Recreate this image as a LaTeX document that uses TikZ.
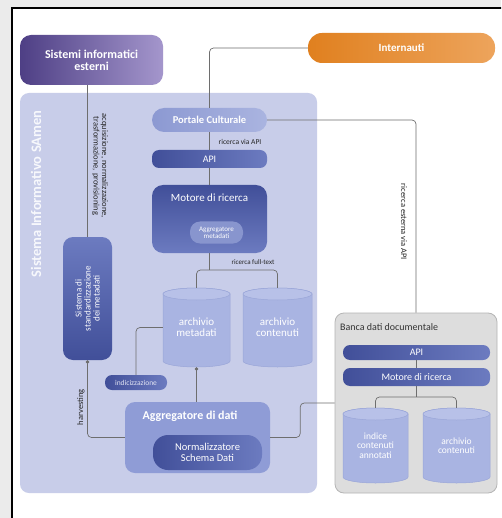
\documentclass[tikz,border=0pt]{standalone}
\usepackage{fontspec}
\setmainfont{Carlito}
\usetikzlibrary{shapes.geometric,arrows.meta}
\definecolor{outbg}{HTML}{EBEBEB}
\definecolor{lav}{HTML}{C8CDE9}
\definecolor{dbA}{HTML}{414F99}
\definecolor{dbB}{HTML}{6C7BC0}
\definecolor{porA}{HTML}{8C99D2}
\definecolor{porB}{HTML}{AAB4E0}
\definecolor{cylA}{HTML}{A9B4E2}
\definecolor{cylB}{HTML}{9AA6D8}
\definecolor{cylT}{HTML}{B8C1E8}
\definecolor{aggC}{HTML}{8F9CD6}
\definecolor{purA}{HTML}{4E3F85}
\definecolor{purB}{HTML}{A496CC}
\definecolor{oraA}{HTML}{E0801F}
\definecolor{oraB}{HTML}{EDA45C}
\definecolor{linec}{HTML}{6E6E6E}
\definecolor{bancaF}{HTML}{DDDDDD}
\definecolor{bancaD}{HTML}{B5B5B5}
\newcommand\fs[1]{\fontsize{#1}{#1}\selectfont}
\newcommand\cylshape[4]{%
  \pgfmathsetmacro\cylcx{(#1+#2)/2}\pgfmathsetmacro\cylrx{(#2-#1)/2}%
  \path[fill=cylA,draw=cylB,line width=0.5pt] ({#1},{#3+6}) -- ({#1},{#4-6})
    arc[start angle=180,end angle=360,x radius=\cylrx pt,y radius=6pt] -- ({#2},{#3+6})
    arc[start angle=0,end angle=180,x radius=\cylrx pt,y radius=6pt] -- cycle;
  \path[fill=cylT,draw=cylB,line width=0.5pt] (\cylcx,{#3+6}) ellipse[x radius=\cylrx pt,y radius=6pt];}
\tikzset{
  conn/.style={draw=linec,line width=0.7pt,rounded corners=4pt},
  lbl/.style={text=black!85, inner sep=1pt},
  dpill/.style={rounded corners=7pt, left color=dbA, right color=dbB, text=white, inner sep=0pt},
  cyltext/.style={text=white, align=center, inner sep=0pt, font=\fs{11}},
}
\begin{document}
\begin{tikzpicture}[x=1pt,y=-1pt]
\useasboundingbox (0,0) rectangle (501,518);
\clip (0,0) rectangle (501,518);
\fill[outbg] (0,0) rectangle (501,518);
\draw[fill=white,line width=1.2pt] (12,8) rectangle (520,540);

% main panel
\node[fill=lav, rounded corners=9pt, minimum width=297, minimum height=400, inner sep=0] (panel) at (168.5,293) {};
\node[rotate=90, text=white!85!lav, font=\bfseries\fs{14.5}, inner sep=0] (ptitle) at (36,194) {Sistema Informativo SAmen};

% banca dati
\node[fill=bancaF, draw=bancaD, line width=0.8pt, rounded corners=9pt, minimum width=162, minimum height=180, inner sep=0] (banca) at (416,403) {};
\node[anchor=west, text=black!80, font=\fs{10}, inner sep=0] (btitle) at (340,327) {Banca dati documentale};

% top nodes
\node[rounded corners=11pt, left color=purA, right color=purB, text=white, font=\bfseries\fs{12}, align=center, minimum width=143, minimum height=50, inner sep=0] (sie) at (91.5,60) {Sistemi informatici\\esterni};
\node[rounded corners=14pt, left color=oraA, right color=oraB, text=white, font=\bfseries\fs{11}, minimum width=187, minimum height=30, inner sep=0] (int) at (401.5,48) {Internauti};

% left column
\node[rounded corners=12pt, left color=porA, right color=porB, text=white, font=\bfseries\fs{10.5}, minimum width=115, minimum height=24, inner sep=0] (por) at (209.5,120) {Portale Culturale};
\node[dpill, font=\fs{10}, minimum width=115, minimum height=18] (api1) at (209.5,159) {API};
\node[rounded corners=11pt, top color=dbA, bottom color=dbB, minimum width=115, minimum height=68, inner sep=0] (mot) at (209.5,219) {};
\node[text=white, font=\fs{11}, inner sep=0] (mottitle) at (209.5,198) {Motore di ricerca};
\node[rounded corners=10pt, fill=dbB!55!porB, text=white, font=\fs{7}, align=center, minimum width=53, minimum height=22, inner sep=0] (aggm) at (216.5,232.5) {Aggregatore\\metadati};

\cylshape{163}{230}{288}{367}
\cylshape{243}{312}{288}{367}
\node[cyltext, minimum width=67, minimum height=79] (am) at (196.5,327.5) {archivio\\metadati};
\node[cyltext, minimum width=69, minimum height=79] (ac) at (277.5,327.5) {archivio\\contenuti};

\node[dpill, font=\fs{7.5}, minimum width=62, minimum height=15, text=white!80!dbB] (idx) at (136,382.5) {indicizzazione};
\node[rotate=90, rounded corners=10pt, top color=dbB, bottom color=dbA, text=white, font=\fs{9}, align=center, minimum width=123, minimum height=49, inner sep=0] (std) at (87.5,298.5) {Sistema di\\standardizzazione\\dei metadati};

\node[fill=aggC, rounded corners=10pt, minimum width=145, minimum height=71, inner sep=0] (agg) at (197.5,437.5) {};
\node[text=white, font=\bfseries\fs{12}, inner sep=0] (aggtitle) at (190,416) {Aggregatore di dati};
\node[rounded corners=15pt, left color=dbA, right color=dbB, text=white, font=\fs{10.5}, align=center, minimum width=109, minimum height=35, inner sep=0] (norm) at (207.5,452.5) {Normalizzatore\\Schema Dati};

% banca contents
\node[dpill, font=\fs{10}, minimum width=147, minimum height=15] (api2) at (416.5,352.5) {API};
\node[dpill, font=\fs{10}, minimum width=147, minimum height=18] (mot2) at (416.5,377) {Motore di ricerca};
\cylshape{343}{408}{408}{483}
\cylshape{423}{490}{408}{483}
\node[cyltext, font=\fs{9.5}, minimum width=65, minimum height=75] (ic) at (375.5,445.5) {indice\\contenuti\\annotati};
\node[cyltext, font=\fs{9.5}, minimum width=67, minimum height=75] (ac2) at (456.5,445.5) {archivio\\contenuti};

% connectors
\draw[conn] (int.west) -| (por.north);
\draw[conn] (por.east) -| (banca.north);
\node[lbl, rotate=-90, font=\fs{8.5}] (l1) at (404,222) {ricerca esterna via API};
\draw[conn] (por.south) -- (api1.north);
\draw[conn] (api1.south) -- (mot.north);
\node[lbl, font=\fs{7.5}] (l2) at (240,142) {ricerca via API};
\coordinate (br1) at (209.5,270);
\draw[conn] (mot.south) -- (br1);
\draw[conn] (am.north) |- (br1) -| (ac.north);
\node[lbl, font=\fs{7}] (l3) at (253,262) {ricerca full-text};
\draw[conn] (idx.north) |- (am.west);
\draw[conn, -{Circle[length=3.5pt]}] (am.south |- agg.north) -- (am.south);
\draw[conn] (std.center |- sie.south) -- (std.east);
\node[lbl, rotate=-90, align=center, font=\fs{8.5}] (l4) at (100,166) {acquisizione, normalizzazione,\\trasformazione, provisioning};
\draw[conn, {Circle[length=3.5pt]}-] (std.west) |- (agg.west);
\node[lbl, rotate=90, font=\fs{8.5}] (l5) at (81,407) {harvesting};
\draw[conn] (agg.east) -- ++(30,0) |- (banca.west);
\draw[conn] (api2.south) -- (mot2.north);
\coordinate (br2) at (416.5,397);
\draw[conn] (mot2.south) -- (br2);
\draw[conn] (ic.north) |- (br2) -| (ac2.north);
\end{tikzpicture}
\end{document}
